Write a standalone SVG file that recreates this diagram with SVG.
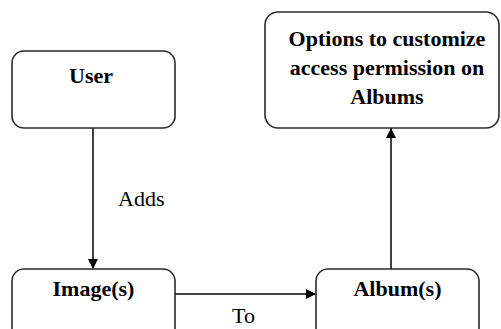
<svg xmlns="http://www.w3.org/2000/svg" width="501" height="329" viewBox="0 0 501 329">
  <style>
    .box { fill: #ffffff; stroke: #2a2a2a; stroke-width: 1.6; }
    .lbl { font-family: "Liberation Serif", "Times New Roman", serif; font-size: 22px; font-weight: bold; fill: #000; text-anchor: middle; }
    .edge { stroke: #000; stroke-width: 1.5; fill: none; }
    .elbl { font-family: "Liberation Serif", "Times New Roman", serif; font-size: 22px; fill: #000; }
  </style>
  <defs>
    <marker id="arrow" viewBox="0 0 10 10" refX="10" refY="5" markerWidth="10" markerHeight="10" markerUnits="userSpaceOnUse" orient="auto">
      <path d="M0,0 L10,5 L0,10 Z" fill="#000"/>
    </marker>
  </defs>
  <rect width="501" height="329" fill="#ffffff"/>

  <g id="connectors">
    <line class="edge" x1="93" y1="128" x2="93" y2="269" marker-end="url(#arrow)"/>
    <text class="elbl" x="118" y="206">Adds</text>
    <line class="edge" x1="175" y1="294" x2="316" y2="294" marker-end="url(#arrow)"/>
    <text class="elbl" x="232" y="323">To</text>
    <line class="edge" x1="391" y1="269" x2="391" y2="128" marker-end="url(#arrow)"/>
  </g>

  <g id="user">
    <rect class="box" x="12" y="51" width="163" height="77" rx="12"/>
    <text class="lbl" x="91" y="83">User</text>
  </g>

  <g id="options">
    <rect class="box" x="265" y="12" width="234" height="116" rx="13"/>
    <text class="lbl" x="387" y="46">Options to customize</text>
    <text class="lbl" x="387" y="75">access permission on</text>
    <text class="lbl" x="387" y="104">Albums</text>
  </g>

  <g id="images">
    <rect class="box" x="12" y="269" width="163" height="80" rx="12"/>
    <text class="lbl" x="93.5" y="296">Image(s)</text>
  </g>

  <g id="albums">
    <rect class="box" x="316" y="269" width="163" height="80" rx="12"/>
    <text class="lbl" x="397.5" y="296">Album(s)</text>
  </g>
</svg>
